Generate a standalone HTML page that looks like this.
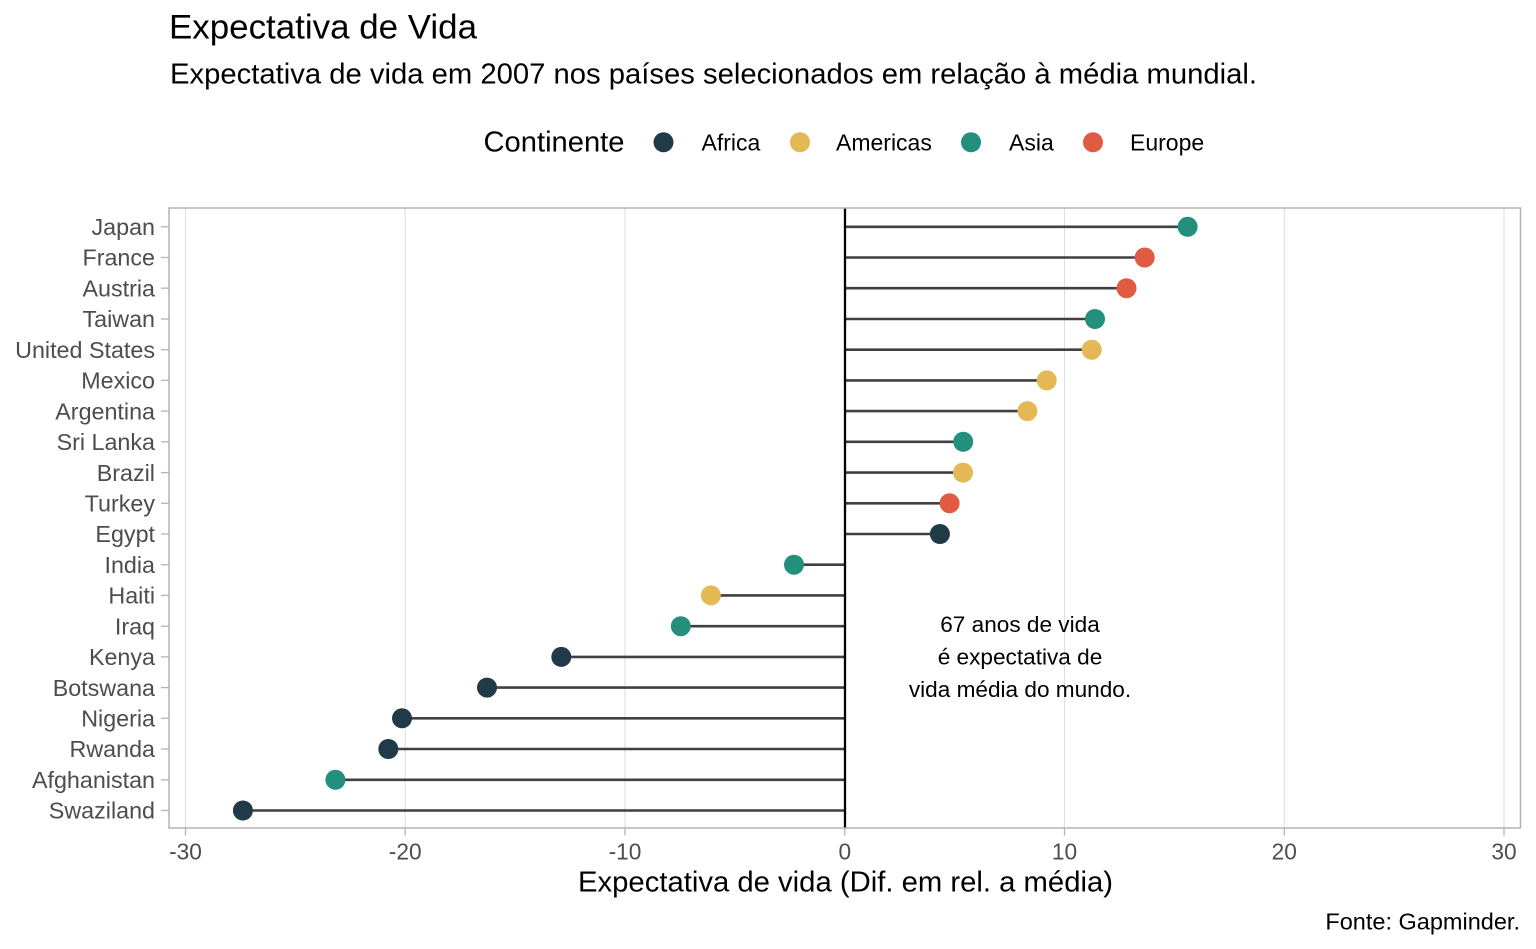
<!DOCTYPE html>
<html>
<head>
<meta charset="utf-8">
<style>
html,body{margin:0;padding:0;background:#fff;}
svg{display:block;}
text{font-family:"Liberation Sans",Arial,sans-serif;}
</style>
</head>
<body>
<svg width="1536" height="949" viewBox="0 0 1536 949" xmlns="http://www.w3.org/2000/svg">
<rect width="1536" height="949" fill="#fff"/>
<!-- titles -->
<text x="169" y="38.5" font-size="34.5" fill="#000" textLength="308" lengthAdjust="spacingAndGlyphs">Expectativa de Vida</text>
<text x="170" y="83.3" font-size="29" fill="#000" textLength="1087" lengthAdjust="spacingAndGlyphs">Expectativa de vida em 2007 nos países selecionados em relação à média mundial.</text>
<!-- legend -->
<text x="483.5" y="151.5" font-size="29" fill="#000" textLength="141" lengthAdjust="spacingAndGlyphs">Continente</text>
<circle cx="663.5" cy="142.3" r="10" fill="#213A48"/>
<text x="701.5" y="150.3" font-size="23" fill="#000">Africa</text>
<circle cx="800" cy="142.3" r="10" fill="#E4B854"/>
<text x="836" y="150.3" font-size="23" fill="#000">Americas</text>
<circle cx="971" cy="142.3" r="10" fill="#238F7D"/>
<text x="1009" y="150.3" font-size="23" fill="#000">Asia</text>
<circle cx="1093" cy="142.3" r="10" fill="#E05B41"/>
<text x="1130" y="150.3" font-size="23" fill="#000">Europe</text>

<!-- grid -->
<g stroke="#dedede" stroke-width="1.1">
<line x1="185.5" y1="208" x2="185.5" y2="828"/>
<line x1="405.2" y1="208" x2="405.2" y2="828"/>
<line x1="625.0" y1="208" x2="625.0" y2="828"/>
<line x1="1064.5" y1="208" x2="1064.5" y2="828"/>
<line x1="1284.3" y1="208" x2="1284.3" y2="828"/>
<line x1="1504.0" y1="208" x2="1504.0" y2="828"/>
</g>

<!-- annotation -->
<g font-size="22.6" fill="#000" text-anchor="middle">
<text x="1020" y="632">67 anos de vida</text>
<text x="1020" y="664.5">é expectativa de</text>
<text x="1020" y="697">vida média do mundo.</text>
</g>

<!-- segments -->
<g stroke="#404040" stroke-width="2.6">
<line x1="845" y1="226.8" x2="1187.6" y2="226.8"/>
<line x1="845" y1="257.5" x2="1144.7" y2="257.5"/>
<line x1="845" y1="288.2" x2="1126.5" y2="288.2"/>
<line x1="845" y1="319.0" x2="1095.0" y2="319.0"/>
<line x1="845" y1="349.7" x2="1091.7" y2="349.7"/>
<line x1="845" y1="380.4" x2="1046.7" y2="380.4"/>
<line x1="845" y1="411.1" x2="1027.4" y2="411.1"/>
<line x1="845" y1="441.8" x2="963.2" y2="441.8"/>
<line x1="845" y1="472.6" x2="963.0" y2="472.6"/>
<line x1="845" y1="503.3" x2="949.6" y2="503.3"/>
<line x1="845" y1="534.0" x2="939.9" y2="534.0"/>
<line x1="845" y1="564.7" x2="794.0" y2="564.7"/>
<line x1="845" y1="595.4" x2="710.9" y2="595.4"/>
<line x1="845" y1="626.2" x2="680.8" y2="626.2"/>
<line x1="845" y1="656.9" x2="561.3" y2="656.9"/>
<line x1="845" y1="687.6" x2="487.0" y2="687.6"/>
<line x1="845" y1="718.3" x2="402.0" y2="718.3"/>
<line x1="845" y1="749.0" x2="388.3" y2="749.0"/>
<line x1="845" y1="779.8" x2="335.4" y2="779.8"/>
<line x1="845" y1="810.5" x2="242.9" y2="810.5"/>
</g>

<!-- zero line -->
<line x1="845" y1="208" x2="845" y2="828" stroke="#000" stroke-width="2.3"/>

<!-- points -->
<g>
<circle cx="1187.6" cy="226.8" r="10" fill="#238F7D"/>
<circle cx="1144.7" cy="257.5" r="10" fill="#E05B41"/>
<circle cx="1126.5" cy="288.2" r="10" fill="#E05B41"/>
<circle cx="1095.0" cy="319.0" r="10" fill="#238F7D"/>
<circle cx="1091.7" cy="349.7" r="10" fill="#E4B854"/>
<circle cx="1046.7" cy="380.4" r="10" fill="#E4B854"/>
<circle cx="1027.4" cy="411.1" r="10" fill="#E4B854"/>
<circle cx="963.2" cy="441.8" r="10" fill="#238F7D"/>
<circle cx="963.0" cy="472.6" r="10" fill="#E4B854"/>
<circle cx="949.6" cy="503.3" r="10" fill="#E05B41"/>
<circle cx="939.9" cy="534.0" r="10" fill="#213A48"/>
<circle cx="794.0" cy="564.7" r="10" fill="#238F7D"/>
<circle cx="710.9" cy="595.4" r="10" fill="#E4B854"/>
<circle cx="680.8" cy="626.2" r="10" fill="#238F7D"/>
<circle cx="561.3" cy="656.9" r="10" fill="#213A48"/>
<circle cx="487.0" cy="687.6" r="10" fill="#213A48"/>
<circle cx="402.0" cy="718.3" r="10" fill="#213A48"/>
<circle cx="388.3" cy="749.0" r="10" fill="#213A48"/>
<circle cx="335.4" cy="779.8" r="10" fill="#238F7D"/>
<circle cx="242.9" cy="810.5" r="10" fill="#213A48"/>
</g>

<!-- panel border -->
<rect x="169" y="208" width="1351.5" height="620" fill="none" stroke="#b3b3b3" stroke-width="1.5"/>

<!-- y ticks -->
<g stroke="#b3b3b3" stroke-width="1.3">
<line x1="161" y1="226.8" x2="169" y2="226.8"/>
<line x1="161" y1="257.5" x2="169" y2="257.5"/>
<line x1="161" y1="288.2" x2="169" y2="288.2"/>
<line x1="161" y1="319.0" x2="169" y2="319.0"/>
<line x1="161" y1="349.7" x2="169" y2="349.7"/>
<line x1="161" y1="380.4" x2="169" y2="380.4"/>
<line x1="161" y1="411.1" x2="169" y2="411.1"/>
<line x1="161" y1="441.8" x2="169" y2="441.8"/>
<line x1="161" y1="472.6" x2="169" y2="472.6"/>
<line x1="161" y1="503.3" x2="169" y2="503.3"/>
<line x1="161" y1="534.0" x2="169" y2="534.0"/>
<line x1="161" y1="564.7" x2="169" y2="564.7"/>
<line x1="161" y1="595.4" x2="169" y2="595.4"/>
<line x1="161" y1="626.2" x2="169" y2="626.2"/>
<line x1="161" y1="656.9" x2="169" y2="656.9"/>
<line x1="161" y1="687.6" x2="169" y2="687.6"/>
<line x1="161" y1="718.3" x2="169" y2="718.3"/>
<line x1="161" y1="749.0" x2="169" y2="749.0"/>
<line x1="161" y1="779.8" x2="169" y2="779.8"/>
<line x1="161" y1="810.5" x2="169" y2="810.5"/>
</g>
<!-- x ticks -->
<g stroke="#b3b3b3" stroke-width="1.3">
<line x1="185.5" y1="828" x2="185.5" y2="835.5"/>
<line x1="405.2" y1="828" x2="405.2" y2="835.5"/>
<line x1="625.0" y1="828" x2="625.0" y2="835.5"/>
<line x1="844.8" y1="828" x2="844.8" y2="835.5"/>
<line x1="1064.5" y1="828" x2="1064.5" y2="835.5"/>
<line x1="1284.3" y1="828" x2="1284.3" y2="835.5"/>
<line x1="1504.0" y1="828" x2="1504.0" y2="835.5"/>
</g>

<!-- y labels -->
<g font-size="23.3" fill="#4d4d4d" text-anchor="end">
<text x="155" y="235">Japan</text>
<text x="155" y="265.7">France</text>
<text x="155" y="296.4">Austria</text>
<text x="155" y="327.2">Taiwan</text>
<text x="155" y="357.9">United States</text>
<text x="155" y="388.6">Mexico</text>
<text x="155" y="419.3">Argentina</text>
<text x="155" y="450.0">Sri Lanka</text>
<text x="155" y="480.8">Brazil</text>
<text x="155" y="511.5">Turkey</text>
<text x="155" y="542.2">Egypt</text>
<text x="155" y="572.9">India</text>
<text x="155" y="603.6">Haiti</text>
<text x="155" y="634.4">Iraq</text>
<text x="155" y="665.1">Kenya</text>
<text x="155" y="695.8">Botswana</text>
<text x="155" y="726.5">Nigeria</text>
<text x="155" y="757.2">Rwanda</text>
<text x="155" y="788.0">Afghanistan</text>
<text x="155" y="818.7">Swaziland</text>
</g>

<!-- x labels -->
<g font-size="22.7" fill="#4d4d4d" text-anchor="middle">
<text x="185.5" y="859.3">-30</text>
<text x="405.2" y="859.3">-20</text>
<text x="625.0" y="859.3">-10</text>
<text x="844.8" y="859.3">0</text>
<text x="1064.5" y="859.3">10</text>
<text x="1284.3" y="859.3">20</text>
<text x="1504.0" y="859.3">30</text>
</g>

<!-- axis title -->
<text x="845.5" y="891.7" font-size="28.5" fill="#000" text-anchor="middle" textLength="535" lengthAdjust="spacingAndGlyphs">Expectativa de vida (Dif. em rel. a média)</text>

<!-- caption -->
<text x="1520" y="929.5" font-size="23.5" fill="#000" text-anchor="end">Fonte: Gapminder.</text>
</svg>
</body>
</html>
